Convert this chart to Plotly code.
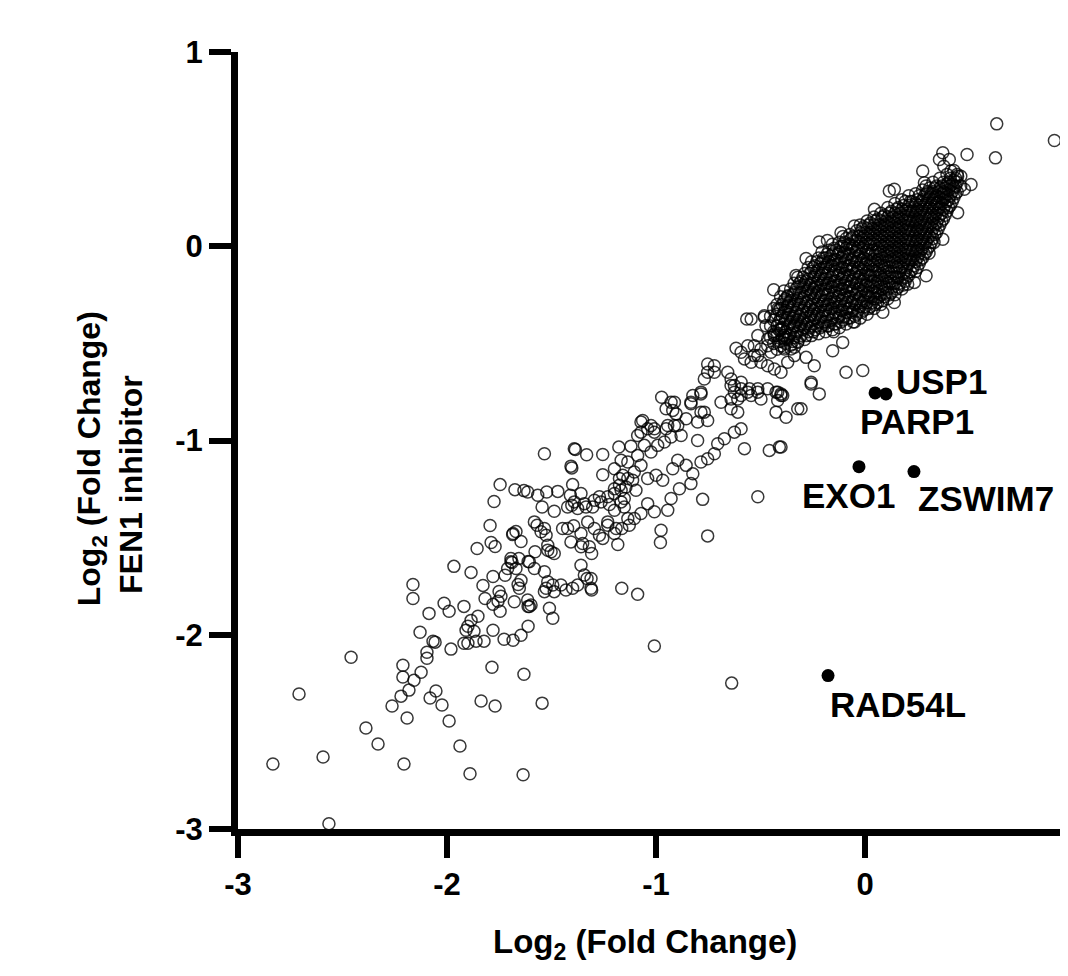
import plotly.graph_objects as go

# ---------------- data ----------------
# sparse lower-left tail
tail_pts = [
    (-1.746, -1.227), (-1.675, -1.253), (-1.632, -1.258), (-1.775, -1.314), (-1.794, -1.438),
    (-1.856, -1.556), (-1.789, -1.525), (-1.770, -1.546), (-1.684, -1.479), (-1.670, -1.469),
    (-1.646, -1.520), (-1.967, -1.648), (-1.885, -1.679), (-1.689, -1.628), (-1.656, -1.607),
    (-1.670, -1.659), (-1.780, -1.700), (-1.722, -1.694), (-1.828, -1.746), (-1.660, -1.741),
    (-1.646, -1.720), (-1.612, -1.623), (-2.163, -1.741), (-2.163, -1.813), (-1.818, -1.813),
    (-1.751, -1.777), (-1.742, -1.802), (-1.756, -1.828), (-1.746, -1.879), (-1.780, -1.843),
    (-2.014, -1.838), (-1.990, -1.879), (-2.086, -1.890), (-1.919, -1.854), (-1.852, -1.905),
    (-1.885, -1.926), (-1.900, -1.956), (-1.909, -1.977), (-1.871, -1.982), (-1.861, -2.033),
    (-1.823, -2.033), (-1.919, -2.044), (-1.900, -2.044), (-1.780, -1.977), (-1.727, -2.023),
    (-1.684, -2.028), (-1.646, -2.003), (-1.612, -1.956), (-1.612, -1.854), (-2.129, -1.987),
    (-2.067, -2.033), (-2.057, -2.038), (-1.981, -2.074), (-2.096, -2.090), (-2.096, -2.121),
    (-2.211, -2.157), (-2.124, -2.193), (-2.211, -2.218), (-2.158, -2.234), (-2.182, -2.285),
    (-2.220, -2.316), (-2.263, -2.367), (-2.191, -2.429), (-2.053, -2.290), (-2.081, -2.326),
    (-2.024, -2.362), (-1.990, -2.444), (-1.837, -2.341), (-1.770, -2.367), (-1.785, -2.167),
    (-1.632, -2.203), (-1.938, -2.573), (-1.890, -2.716), (-1.636, -2.721), (-2.459, -2.116),
    (-2.708, -2.305), (-2.388, -2.480), (-2.330, -2.562), (-2.593, -2.629), (-2.833, -2.665),
    (-2.206, -2.665), (-2.565, -2.973), (-1.545, -2.352), (-1.008, -2.058), (-0.638, -2.249),
]

# middle band (x roughly -1.6 .. -0.9)
mid_pts = [
    (-1.534, -1.068), (-1.386, -1.046), (-1.332, -1.073), (-1.255, -1.072), (-1.178, -1.034),
    (-1.120, -1.029), (-1.167, -1.102), (-1.135, -1.111), (-1.088, -0.974), (-1.403, -1.141),
    (-1.255, -1.176), (-1.175, -1.196), (-1.144, -1.239), (-1.112, -1.205), (-1.096, -1.256),
    (-1.167, -1.256), (-1.523, -1.265), (-1.470, -1.262), (-1.399, -1.227), (-1.359, -1.273),
    (-1.410, -1.282), (-1.343, -1.325), (-1.335, -1.342), (-1.295, -1.308), (-1.271, -1.290),
    (-1.223, -1.330), (-1.199, -1.273), (-1.152, -1.299), (-1.152, -1.342), (-1.104, -1.402),
    (-1.545, -1.342), (-1.487, -1.364), (-1.403, -1.333), (-1.686, -1.484), (-1.569, -1.436),
    (-1.534, -1.453), (-1.526, -1.488), (-1.518, -1.539), (-1.502, -1.573), (-1.487, -1.582),
    (-1.518, -1.565), (-1.447, -1.453), (-1.423, -1.453), (-1.394, -1.439), (-1.359, -1.479),
    (-1.351, -1.530), (-1.319, -1.547), (-1.308, -1.582), (-1.271, -1.488), (-1.231, -1.419),
    (-1.199, -1.479), (-1.183, -1.535), (-1.164, -1.453), (-1.128, -1.436), (-1.579, -1.573),
    (-1.606, -1.624), (-1.694, -1.624), (-1.614, -1.821), (-1.606, -1.855), (-1.654, -1.761),
    (-1.534, -1.676), (-1.526, -1.761), (-1.518, -1.727), (-1.494, -1.744), (-1.455, -1.744),
    (-1.431, -1.770), (-1.399, -1.761), (-1.487, -1.778), (-1.534, -1.778), (-1.359, -1.642),
    (-1.343, -1.693), (-1.330, -1.710), (-1.308, -1.770), (-1.164, -1.761), (-1.088, -1.792),
    (-1.510, -1.864), (-1.494, -1.915), (-0.976, -1.462), (-0.979, -1.525), (-0.944, -1.359),
    (-0.928, -1.299), (-0.888, -1.248), (-0.833, -1.222), (-0.824, -1.171), (-0.856, -1.128),
    (-0.896, -1.102), (-0.920, -1.145), (-0.968, -1.205), (-1.000, -1.179), (-1.040, -1.196),
    (-1.072, -1.128), (-1.104, -1.162), (-1.135, -1.196), (-1.159, -1.179), (-1.175, -1.231),
    (-1.199, -1.248), (-1.231, -1.290), (-1.263, -1.316), (-1.303, -1.342), (-1.375, -1.350),
    (-1.407, -1.132), (-1.391, -1.042), (-1.088, -1.077), (-1.056, -1.025), (-1.024, -1.059),
    (-1.199, -1.145), (-1.566, -1.282), (-1.614, -1.265), (-1.423, -1.342), (-1.391, -1.316),
    (-1.327, -1.419), (-1.295, -1.453), (-1.231, -1.436), (-1.191, -1.453), (-1.135, -1.402),
    (-1.040, -1.325), (-1.008, -1.367), (-1.072, -1.376), (-1.167, -1.316), (-1.199, -1.359),
    (-1.582, -1.419), (-1.550, -1.470), (-1.407, -1.522), (-1.359, -1.547), (-1.311, -1.710),
    (-1.375, -1.744), (-1.582, -1.659), (-1.694, -1.607), (-1.710, -1.659), (-1.678, -1.830),
    (-1.598, -1.847), (-1.311, -1.761), (-1.255, -1.504), (-0.753, -1.491), (-0.777, -1.303),
    (-0.513, -1.290),
]

# upper band (x roughly -1.1 .. -0.3)
upper_pts = [
    (-0.617, -0.525), (-0.561, -0.512), (-0.530, -0.563), (-0.498, -0.529), (-0.466, -0.478),
    (-0.434, -0.452), (-0.386, -0.478), (-0.354, -0.529), (-0.338, -0.563), (-0.370, -0.597),
    (-0.402, -0.649), (-0.434, -0.632), (-0.466, -0.615), (-0.498, -0.597), (-0.545, -0.597),
    (-0.577, -0.580), (-0.753, -0.606), (-0.721, -0.649), (-0.769, -0.683), (-0.657, -0.649),
    (-0.641, -0.683), (-0.625, -0.717), (-0.593, -0.700), (-0.553, -0.734), (-0.513, -0.751),
    (-0.466, -0.734), (-0.426, -0.751), (-0.394, -0.768), (-0.418, -0.794), (-0.498, -0.786),
    (-0.545, -0.768), (-0.593, -0.768), (-0.641, -0.786), (-0.689, -0.803), (-0.641, -0.837),
    (-0.609, -0.854), (-0.973, -0.777), (-0.912, -0.803), (-0.952, -0.837), (-0.904, -0.863),
    (-0.824, -0.768), (-0.785, -0.760), (-0.833, -0.811), (-0.769, -0.854), (-0.753, -0.897),
    (-0.801, -0.905), (-0.856, -0.888), (-1.072, -0.905), (-1.040, -0.940), (-1.008, -0.940),
    (-0.952, -0.940), (-0.912, -0.923), (-0.880, -0.974), (-0.928, -0.982), (-0.960, -1.008),
    (-0.992, -1.025), (-0.426, -0.854), (-0.378, -0.880), (-0.322, -0.837), (-0.593, -0.940),
    (-0.625, -0.957), (-0.673, -0.991), (-0.705, -1.017), (-0.721, -1.068), (-0.753, -1.094),
    (-0.785, -1.111), (-0.801, -1.000), (-0.577, -1.042), (-0.458, -1.051), (-0.410, -1.034),
    (-1.064, -0.897), (-1.024, -0.923), (-1.072, -0.957), (-1.008, -0.957), (-0.944, -0.923),
    (-0.896, -0.923), (-0.928, -0.803), (-0.920, -0.845), (-0.833, -0.803), (-0.785, -0.751),
    (-0.785, -0.854), (-0.753, -0.649), (-0.721, -0.615), (-0.641, -0.717), (-0.625, -0.751),
    (-0.609, -0.786), (-0.593, -0.734), (-0.561, -0.751), (-0.513, -0.734), (-0.418, -0.751),
    (-0.402, -0.768), (-0.513, -0.563), (-0.450, -0.546), (-0.437, -0.224), (-0.566, -0.375),
    (-0.545, -0.375), (-0.482, -0.366), (-0.474, -0.409), (-0.418, -0.323), (-0.370, -0.255),
    (-0.370, -0.306), (-0.402, -0.426), (-0.513, -0.460), (-0.593, -0.546), (-0.530, -0.512),
    (-0.466, -0.512), (-0.402, -0.512), (-0.434, -0.460), (-0.378, -0.469), (-0.338, -0.409),
    (-0.322, -0.495), (-0.091, -0.649), (-0.011, -0.640), (-0.258, -0.709), (-0.219, -0.760),
    (-0.306, -0.837), (-0.402, -1.034), (-0.338, -0.520), (-0.282, -0.572), (-0.243, -0.615),
    (-0.155, -0.538), (-0.107, -0.495), (-0.386, -0.529), (-0.402, -0.760), (-0.258, -0.700),
    (-0.482, -0.358),
]

# scattered points around the dense core
edge_pts = [
    (0.630, 0.630), (0.906, 0.544), (0.624, 0.455), (0.488, 0.472), (0.306, -0.036),
    (0.292, -0.152), (0.236, -0.186), (0.204, -0.195), (0.085, -0.340), (0.053, -0.272),
    (0.372, 0.036), (0.443, 0.173), (0.475, 0.293), (0.507, 0.318), (-0.219, 0.022),
    (-0.282, -0.063), (-0.115, 0.070), (-0.051, 0.104), (0.045, 0.190), (0.116, 0.284),
    (0.140, 0.293), (0.284, 0.327), (0.276, 0.387), (0.372, 0.481), (0.403, 0.447),
    (0.356, 0.447), (0.377, 0.412), (0.411, 0.387), (0.443, 0.361), (-0.150, -0.440),
    (-0.050, -0.390), (0.140, -0.290), (0.330, 0.020), (-0.330, -0.150), (-0.180, 0.030),
]

# dense core, first layer: (x, [y values]) columns read from the black mass around (0, 0)
core_cols = [
    (-0.452, [-0.47, -0.41, -0.36]),
    (-0.437, [-0.50, -0.44, -0.38, -0.32]),
    (-0.421, [-0.53, -0.46, -0.41, -0.35, -0.30]),
    (-0.404, [-0.49, -0.43, -0.37, -0.32, -0.26]),
    (-0.388, [-0.52, -0.46, -0.40, -0.34, -0.28, -0.23]),
    (-0.371, [-0.48, -0.42, -0.37, -0.31, -0.26]),
    (-0.356, [-0.51, -0.45, -0.39, -0.33, -0.28, -0.22]),
    (-0.339, [-0.47, -0.41, -0.36, -0.30, -0.24, -0.19]),
    (-0.322, [-0.49, -0.44, -0.38, -0.32, -0.27, -0.21, -0.16]),
    (-0.305, [-0.46, -0.40, -0.35, -0.29, -0.24, -0.18]),
    (-0.289, [-0.48, -0.42, -0.37, -0.31, -0.26, -0.20, -0.14]),
    (-0.272, [-0.44, -0.39, -0.33, -0.28, -0.22, -0.17, -0.11]),
    (-0.256, [-0.46, -0.41, -0.35, -0.30, -0.24, -0.19, -0.13, -0.08]),
    (-0.239, [-0.43, -0.37, -0.32, -0.26, -0.21, -0.15, -0.10]),
    (-0.222, [-0.45, -0.39, -0.34, -0.28, -0.23, -0.17, -0.12, -0.06]),
    (-0.206, [-0.41, -0.36, -0.30, -0.25, -0.19, -0.14, -0.08, -0.03]),
    (-0.189, [-0.44, -0.39, -0.33, -0.28, -0.22, -0.17, -0.11, -0.06]),
    (-0.173, [-0.41, -0.35, -0.30, -0.24, -0.19, -0.13, -0.08, -0.02]),
    (-0.156, [-0.43, -0.37, -0.32, -0.26, -0.21, -0.15, -0.10, -0.04, 0.01]),
    (-0.139, [-0.40, -0.35, -0.29, -0.24, -0.18, -0.13, -0.07, -0.02]),
    (-0.123, [-0.42, -0.36, -0.31, -0.25, -0.20, -0.14, -0.09, -0.03, 0.02]),
    (-0.106, [-0.38, -0.33, -0.27, -0.22, -0.16, -0.11, -0.05, 0.00, 0.05]),
    (-0.090, [-0.40, -0.34, -0.29, -0.23, -0.18, -0.12, -0.07, -0.01, 0.04]),
    (-0.073, [-0.37, -0.32, -0.26, -0.21, -0.15, -0.10, -0.04, 0.01, 0.06]),
    (-0.057, [-0.39, -0.33, -0.28, -0.22, -0.17, -0.11, -0.06, 0.00, 0.05]),
    (-0.040, [-0.35, -0.30, -0.24, -0.19, -0.13, -0.08, -0.02, 0.03, 0.08]),
    (-0.023, [-0.37, -0.31, -0.26, -0.20, -0.15, -0.09, -0.04, 0.02, 0.07, 0.11]),
    (-0.007, [-0.33, -0.28, -0.22, -0.17, -0.11, -0.06, 0.00, 0.05, 0.10]),
    (0.010, [-0.35, -0.29, -0.24, -0.18, -0.13, -0.07, -0.02, 0.04, 0.09, 0.13]),
    (0.026, [-0.31, -0.26, -0.20, -0.15, -0.09, -0.04, 0.02, 0.07, 0.12]),
    (0.043, [-0.32, -0.27, -0.21, -0.16, -0.10, -0.05, 0.01, 0.06, 0.11, 0.15]),
    (0.060, [-0.29, -0.23, -0.18, -0.12, -0.07, -0.01, 0.04, 0.09, 0.14]),
    (0.076, [-0.30, -0.25, -0.19, -0.14, -0.08, -0.03, 0.03, 0.08, 0.13, 0.17]),
    (0.093, [-0.26, -0.21, -0.15, -0.10, -0.04, 0.01, 0.06, 0.11, 0.16]),
    (0.109, [-0.27, -0.22, -0.16, -0.11, -0.05, 0.00, 0.05, 0.10, 0.15, 0.20]),
    (0.126, [-0.24, -0.18, -0.13, -0.07, -0.02, 0.03, 0.08, 0.13, 0.18]),
    (0.143, [-0.25, -0.19, -0.14, -0.08, -0.03, 0.02, 0.07, 0.12, 0.17, 0.22]),
    (0.159, [-0.21, -0.16, -0.10, -0.05, 0.00, 0.05, 0.10, 0.15, 0.20]),
    (0.176, [-0.22, -0.17, -0.11, -0.06, -0.01, 0.04, 0.09, 0.14, 0.19, 0.24]),
    (0.192, [-0.18, -0.13, -0.07, -0.02, 0.03, 0.08, 0.13, 0.18, 0.23]),
    (0.209, [-0.15, -0.09, -0.04, 0.01, 0.06, 0.11, 0.16, 0.21, 0.26]),
    (0.226, [-0.12, -0.07, -0.02, 0.03, 0.08, 0.13, 0.18, 0.23]),
    (0.242, [-0.13, -0.08, -0.03, 0.02, 0.07, 0.12, 0.17, 0.22, 0.27]),
    (0.259, [-0.09, -0.04, 0.01, 0.06, 0.11, 0.16, 0.21, 0.26]),
    (0.275, [-0.06, -0.01, 0.04, 0.09, 0.14, 0.19, 0.24, 0.29]),
    (0.292, [-0.03, 0.02, 0.07, 0.12, 0.17, 0.22, 0.27, 0.31]),
    (0.309, [0.00, 0.05, 0.10, 0.15, 0.20, 0.25, 0.30]),
    (0.325, [0.04, 0.09, 0.14, 0.19, 0.24, 0.28, 0.33]),
    (0.342, [0.07, 0.12, 0.17, 0.22, 0.26, 0.31]),
    (0.358, [0.11, 0.16, 0.20, 0.25, 0.30, 0.35]),
    (0.375, [0.14, 0.19, 0.24, 0.28, 0.33]),
    (0.392, [0.18, 0.23, 0.27, 0.32, 0.37]),
    (0.408, [0.21, 0.26, 0.31, 0.35]),
    (0.425, [0.25, 0.30, 0.34, 0.39]),
    (0.441, [0.28, 0.33, 0.37]),
    (0.458, [0.31, 0.36]),
]

# dense core, second (overlapping) layer
core_cols_b = [
    (-0.413, [-0.49, -0.43, -0.39, -0.33]),
    (-0.396, [-0.47, -0.42, -0.36, -0.30]),
    (-0.380, [-0.50, -0.44, -0.38, -0.33, -0.27]),
    (-0.363, [-0.46, -0.40, -0.35, -0.29]),
    (-0.347, [-0.49, -0.42, -0.37, -0.31, -0.25]),
    (-0.330, [-0.45, -0.39, -0.34, -0.28, -0.22]),
    (-0.314, [-0.47, -0.41, -0.36, -0.30, -0.24, -0.19]),
    (-0.297, [-0.43, -0.38, -0.33, -0.27, -0.21, -0.16]),
    (-0.281, [-0.46, -0.40, -0.34, -0.29, -0.23, -0.18]),
    (-0.264, [-0.42, -0.36, -0.31, -0.25, -0.20, -0.14]),
    (-0.247, [-0.44, -0.38, -0.33, -0.27, -0.22, -0.16, -0.11]),
    (-0.231, [-0.41, -0.35, -0.30, -0.24, -0.19, -0.13, -0.08]),
    (-0.214, [-0.42, -0.37, -0.31, -0.26, -0.20, -0.15, -0.09]),
    (-0.198, [-0.39, -0.33, -0.28, -0.22, -0.17, -0.11, -0.06]),
    (-0.181, [-0.41, -0.36, -0.30, -0.25, -0.19, -0.14, -0.09, -0.04]),
    (-0.164, [-0.38, -0.32, -0.27, -0.21, -0.16, -0.10, -0.05]),
    (-0.148, [-0.40, -0.34, -0.28, -0.23, -0.18, -0.12, -0.07, -0.01]),
    (-0.131, [-0.37, -0.31, -0.26, -0.20, -0.15, -0.09, -0.04]),
    (-0.115, [-0.39, -0.33, -0.28, -0.22, -0.17, -0.11, -0.06, 0.00]),
    (-0.098, [-0.36, -0.30, -0.25, -0.19, -0.14, -0.08, -0.03, 0.02]),
    (-0.082, [-0.37, -0.32, -0.26, -0.21, -0.15, -0.10, -0.04, 0.01]),
    (-0.065, [-0.34, -0.29, -0.23, -0.18, -0.12, -0.07, -0.01, 0.04]),
    (-0.048, [-0.36, -0.30, -0.25, -0.19, -0.14, -0.08, -0.03, 0.03]),
    (-0.032, [-0.33, -0.27, -0.22, -0.16, -0.11, -0.05, 0.00, 0.05]),
    (-0.015, [-0.34, -0.29, -0.23, -0.18, -0.12, -0.07, -0.01, 0.04, 0.09]),
    (0.002, [-0.31, -0.25, -0.20, -0.14, -0.09, -0.03, 0.02, 0.07]),
    (0.018, [-0.32, -0.26, -0.21, -0.15, -0.10, -0.04, 0.01, 0.06, 0.11]),
    (0.035, [-0.29, -0.23, -0.18, -0.12, -0.07, -0.02, 0.04, 0.09]),
    (0.051, [-0.30, -0.24, -0.19, -0.13, -0.08, -0.03, 0.03, 0.08, 0.13]),
    (0.068, [-0.26, -0.21, -0.15, -0.10, -0.04, 0.01, 0.06, 0.11]),
    (0.084, [-0.28, -0.22, -0.17, -0.11, -0.06, 0.00, 0.05, 0.10, 0.15]),
    (0.101, [-0.24, -0.18, -0.13, -0.07, -0.02, 0.03, 0.08, 0.13]),
    (0.117, [-0.25, -0.19, -0.14, -0.08, -0.03, 0.02, 0.07, 0.12, 0.17]),
    (0.134, [-0.21, -0.16, -0.10, -0.05, 0.00, 0.05, 0.10, 0.15]),
    (0.151, [-0.22, -0.16, -0.11, -0.06, -0.01, 0.04, 0.09, 0.14, 0.19]),
    (0.167, [-0.19, -0.13, -0.08, -0.03, 0.02, 0.07, 0.12, 0.17]),
    (0.184, [-0.20, -0.14, -0.09, -0.04, 0.01, 0.06, 0.11, 0.16, 0.21]),
    (0.200, [-0.16, -0.11, -0.06, -0.01, 0.04, 0.09, 0.14, 0.19]),
    (0.217, [-0.13, -0.07, -0.02, 0.03, 0.08, 0.13, 0.18, 0.23]),
    (0.234, [-0.10, -0.05, 0.00, 0.05, 0.10, 0.15, 0.20]),
    (0.250, [-0.11, -0.06, -0.01, 0.04, 0.09, 0.14, 0.19, 0.24]),
    (0.267, [-0.07, -0.02, 0.03, 0.08, 0.13, 0.18, 0.23]),
    (0.284, [-0.04, 0.01, 0.06, 0.11, 0.16, 0.21, 0.26]),
    (0.300, [-0.01, 0.04, 0.09, 0.14, 0.19, 0.24, 0.28]),
    (0.317, [0.02, 0.07, 0.12, 0.17, 0.22, 0.27]),
    (0.334, [0.06, 0.11, 0.16, 0.21, 0.25, 0.30]),
    (0.350, [0.09, 0.14, 0.19, 0.23, 0.28]),
    (0.367, [0.13, 0.17, 0.22, 0.27, 0.31]),
    (0.383, [0.16, 0.21, 0.25, 0.30]),
    (0.400, [0.20, 0.24, 0.29, 0.33]),
    (0.417, [0.23, 0.28, 0.32]),
    (0.433, [0.27, 0.31, 0.35]),
]

# highlighted genes (filled dots) and their label positions
hit_names = ["PARP1", "USP1", "EXO1", "ZSWIM7", "RAD54L"]
hit_x = [0.048, 0.100, -0.029, 0.234, -0.177]
hit_y = [-0.755, -0.760, -1.135, -1.160, -2.210]
label_x = [0.250, 0.364, -0.079, 0.581, 0.159]
label_y = [-0.904, -0.698, -1.284, -1.300, -2.357]

x_tick_vals = [-3, -2, -1, 0]
x_tick_text = ["-3", "-2", "-1", "0"]
y_tick_vals = [-3, -2, -1, 0, 1]
y_tick_text = ["-3", "-2", "-1", "0", "1"]

# ---------------- build ----------------
all_x, all_y = [], []
for group in (tail_pts, mid_pts, upper_pts, edge_pts):
    for px, py in group:
        all_x.append(px)
        all_y.append(py)
for cols in (core_cols, core_cols_b):
    for cx, ys in cols:
        for cy in ys:
            all_x.append(cx)
            all_y.append(cy)

FONT = "Arial, 'Liberation Sans', Helvetica, sans-serif"
INK = "rgba(0,0,0,0.78)"

fig = go.Figure()
fig.add_trace(go.Scatter(
    x=all_x, y=all_y, mode="markers",
    marker=dict(symbol="circle-open", size=12, color=INK,
                line=dict(width=1.5, color=INK)),
    hoverinfo="skip", showlegend=False,
))
fig.add_trace(go.Scatter(
    x=hit_x, y=hit_y, mode="markers", text=hit_names,
    marker=dict(symbol="circle", size=13, color="black"),
    showlegend=False,
))

for name, lx, ly in zip(hit_names, label_x, label_y):
    fig.add_annotation(x=lx, y=ly, xref="x", yref="y", text=name, showarrow=False,
                       xanchor="center", yanchor="middle",
                       font=dict(family=FONT, size=35, color="black", weight="bold"))

# axis titles
fig.add_annotation(x=0.49, y=-0.148, xref="paper", yref="paper",
                   text="Log<sub>2</sub> (Fold Change)", showarrow=False,
                   xanchor="center", yanchor="middle",
                   font=dict(family=FONT, size=33, color="black", weight="bold"))
fig.add_annotation(x=-0.177, y=0.476, xref="paper", yref="paper",
                   text="Log<sub>2</sub> (Fold Change)", showarrow=False, textangle=-90,
                   xanchor="center", yanchor="middle",
                   font=dict(family=FONT, size=32, color="black", weight="bold"))
fig.add_annotation(x=-0.129, y=0.444, xref="paper", yref="paper",
                   text="FEN1 inhibitor", showarrow=False, textangle=-90,
                   xanchor="center", yanchor="middle",
                   font=dict(family=FONT, size=32, color="black", weight="bold"))

axis_common = dict(
    showline=True, linewidth=7, linecolor="black",
    ticks="outside", ticklen=22, tickwidth=6, tickcolor="black",
    showgrid=False, zeroline=False,
    tickfont=dict(family=FONT, size=31, color="black", weight="bold"),
)
fig.update_xaxes(range=[-3, 0.971], tickvals=x_tick_vals, ticktext=x_tick_text, **axis_common)
fig.update_yaxes(range=[-3, 1], tickvals=y_tick_vals, ticktext=y_tick_text, **axis_common)

# the page body adds an 8 px offset, so the figure is 8 px smaller on each side
fig.update_layout(
    width=1060, height=968,
    margin=dict(l=230, r=0, t=44, b=147),
    paper_bgcolor="white", plot_bgcolor="white",
    showlegend=False,
)

fig.write_html("out.html")
